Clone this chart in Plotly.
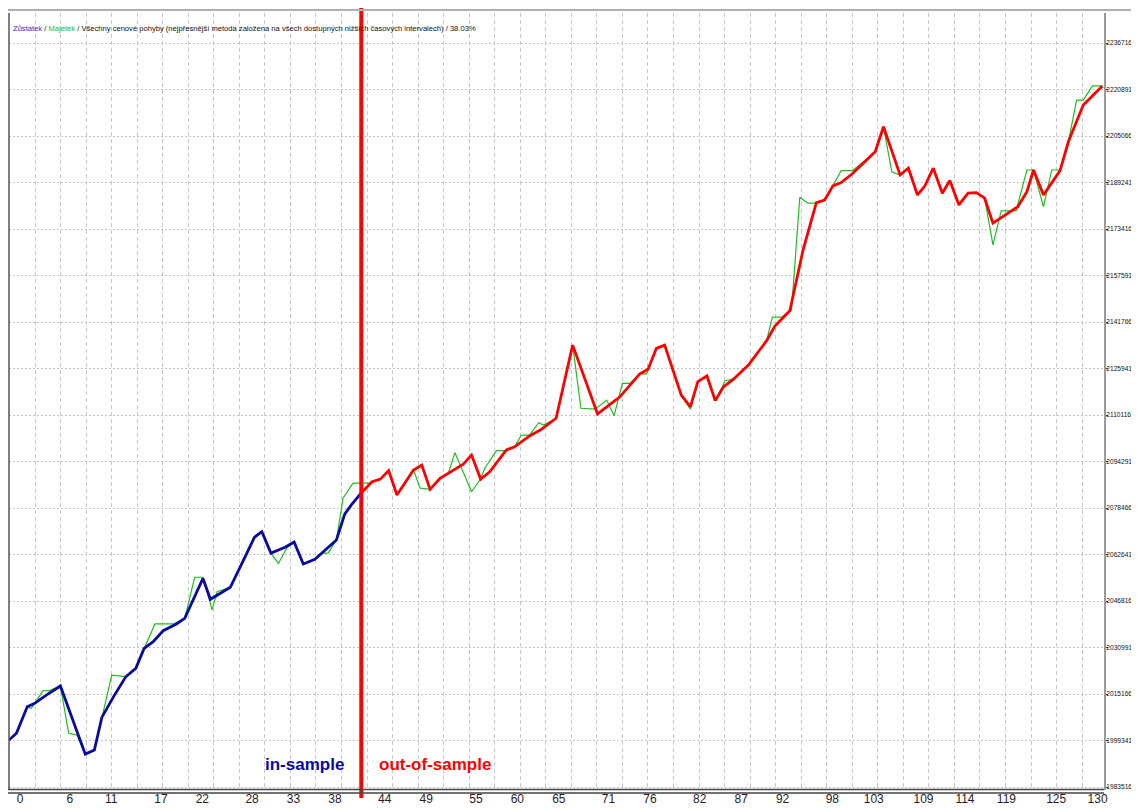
import plotly.graph_objects as go

# ---------------- data ----------------
trade_in = [0.0, 0.9, 2.2, 3.1, 4.5, 6.2, 9.2, 10.3, 11.2, 12.6, 14.1, 15.3, 16.3, 17.4, 18.6,
            20.2, 21.2, 23.4, 24.3, 25.5, 26.7, 28.7, 29.6, 30.5, 31.6, 33.3, 34.4, 35.5, 36.9,
            39.5, 40.5, 41.3, 42.5]
balance_in = [1999500, 2001800, 2010800, 2012000, 2014800, 2017900, 1994700, 1996100, 2007200,
              2014200, 2021100, 2023900, 2030700, 2033000, 2036700, 2039000, 2040900, 2054500,
              2047400, 2049400, 2051500, 2063100, 2068500, 2070400, 2063100, 2065100, 2066900,
              2059400, 2061000, 2067600, 2076400, 2079500, 2083600]

trade_out = [42.5, 43.8, 44.8, 45.8, 46.8, 48.8, 49.8, 50.8, 52.0, 53.0, 54.8, 55.8, 56.9, 58.0,
             59.2, 60.0, 61.0, 62.8, 64.1, 66.0, 68.0, 71.0, 73.7, 76.1, 77.1, 78.1, 79.1, 81.1,
             82.2, 83.1, 84.2, 85.2, 86.2, 87.4, 89.2, 91.4, 92.4, 94.2, 95.8, 97.4, 98.4, 99.4,
             100.4, 101.8, 104.5, 105.5, 107.5, 108.5, 109.6, 110.5, 111.5, 112.6, 113.5, 114.6,
             115.7, 116.7, 117.7, 118.7, 121.7, 122.8, 123.6, 124.8, 126.8, 127.8, 129.6, 131.9]
balance_out = [2083600, 2087400, 2088300, 2091200, 2082900, 2091400, 2093100, 2084800, 2088600,
               2090300, 2093400, 2096500, 2088300, 2090800, 2095100, 2098200, 2099300, 2103000,
               2105000, 2109000, 2133900, 2110500, 2116300, 2124100, 2125700, 2132800, 2133900,
               2116900, 2112900, 2121500, 2123400, 2115000, 2119700, 2122300, 2127100, 2135400,
               2140400, 2145600, 2166300, 2182400, 2183300, 2188100, 2189200, 2192400, 2199700,
               2208200, 2191800, 2194100, 2185000, 2188100, 2194100, 2185600, 2189900, 2181600,
               2185600, 2185800, 2183900, 2175400, 2181000, 2186100, 2193500, 2185000, 2193300,
               2203100, 2215600, 2222100]

trade_eq = [0.0, 0.9, 2.2, 2.7, 3.1, 4.1, 4.9, 6.2, 7.2, 8.2, 9.2, 10.3, 12.4, 14.1, 15.3, 16.3,
            17.6, 19.8, 21.2, 22.4, 23.4, 24.5, 25.1, 26.7, 28.7, 29.6, 30.5, 31.6, 32.5, 33.5,
            34.4, 35.5, 36.9, 37.8, 38.5, 39.5, 40.3, 41.5, 43.5, 44.8, 45.8, 46.8, 48.8, 49.6,
            50.8, 52.0, 53.0, 53.8, 55.8, 56.8, 57.4, 58.8, 60.0, 61.0, 61.8, 62.8, 63.9, 64.5,
            66.0, 68.0, 69.0, 70.7, 72.1, 73.0, 74.0, 74.9, 76.1, 76.9, 78.1, 79.1, 81.1, 82.2,
            83.1, 84.2, 85.2, 86.4, 87.4, 89.2, 91.4, 92.1, 93.2, 94.4, 95.4, 96.4, 97.4, 98.4,
            99.4, 100.4, 101.8, 104.5, 105.5, 106.5, 107.5, 108.5, 109.6, 110.5, 111.5, 112.6,
            113.5, 114.6, 115.7, 116.7, 117.7, 118.7, 119.7, 121.5, 122.8, 123.6, 124.8, 125.8,
            126.8, 127.8, 128.8, 129.6, 130.7, 131.9]
equity = [1999500, 2001800, 2010800, 2010300, 2012000, 2016300, 2016300, 2017900, 2001800,
          2001200, 1994700, 1996100, 2021600, 2021100, 2023900, 2030700, 2039000, 2039000,
          2040900, 2054900, 2054900, 2043800, 2050000, 2051500, 2063100, 2068500, 2070400,
          2063100, 2059600, 2064800, 2066900, 2059400, 2061000, 2063100, 2063100, 2067600,
          2081800, 2086900, 2086900, 2088300, 2091200, 2082900, 2091400, 2085200, 2084800,
          2088600, 2090300, 2097300, 2084000, 2088000, 2092000, 2098000, 2098000, 2099300,
          2103300, 2103300, 2107500, 2106700, 2109000, 2133900, 2112400, 2112100, 2115200,
          2109900, 2120900, 2120900, 2124100, 2124100, 2132800, 2133900, 2116900, 2112100,
          2121500, 2123400, 2115000, 2121800, 2122300, 2127100, 2135400, 2143400, 2143400,
          2145900, 2184200, 2182200, 2182200, 2183300, 2188100, 2193300, 2193300, 2199700,
          2208200, 2192900, 2191800, 2194100, 2185000, 2188100, 2194100, 2185600, 2189900,
          2181600, 2185600, 2185800, 2183900, 2168000, 2179600, 2179600, 2193500, 2193500,
          2181000, 2193500, 2193500, 2203100, 2217300, 2217300, 2222100, 2222100]

split_trade = 42.5

x_tick_labels = [0, 6, 11, 17, 22, 28, 33, 38, 44, 49, 55, 60, 65, 71, 76, 82, 87, 92, 98, 103,
                 109, 114, 119, 125, 130]
y_tick_values = [1983516, 1999341, 2015166, 2030991, 2046816, 2062641, 2078466, 2094291, 2110116,
                 2125941, 2141766, 2157591, 2173416, 2189241, 2205066, 2220891, 2236716]

title_text = ('<span style="color:#2a2ad0">Zůstatek</span> / '
              '<span style="color:#22c022">Majetek</span> / '
              'Všechny cenové pohyby (nejpřesnější metoda založena na všech dostupných nižších '
              'časových intervalech) / 38.03%')

# ---------------- layout geometry (screen pixels) ----------------
OFF = 8                      # page body margin of the written html
SCREEN_W, SCREEN_H = 1139, 809
W, H = SCREEN_W - OFF, SCREEN_H - OFF
L, R, T, B = 9, 1104, 13, 790
X_RANGE = [0, 132.1]
Y_RANGE = [1982497, 2246926]
FONT = "Liberation Sans, Arial, sans-serif"


def px_x(p):
    return (p - L) / (R - L)


def px_y(p):
    return (B - p) / (B - T)


fig = go.Figure()

fig.add_trace(go.Scatter(x=trade_eq, y=equity, mode="lines",
                         line=dict(color="#1fbf1f", width=1.2), hoverinfo="skip",
                         showlegend=False))
fig.add_trace(go.Scatter(x=trade_in, y=balance_in, mode="lines",
                         line=dict(color="#0a0aa0", width=2.8), showlegend=False))
fig.add_trace(go.Scatter(x=trade_out, y=balance_out, mode="lines",
                         line=dict(color="#ff0000", width=2.8), showlegend=False))

# vertical separator
fig.add_shape(type="line", xref="x", yref="paper", x0=split_trade, x1=split_trade,
              y0=px_y(798), y1=px_y(0), line=dict(color="#ff0000", width=4), layer="above")

# frame lines
fig.add_shape(type="line", xref="paper", yref="paper", x0=px_x(4), x1=px_x(1139),
              y0=px_y(10), y1=px_y(10), line=dict(color="#b0b0b0", width=2))
fig.add_shape(type="line", xref="paper", yref="paper", x0=0, x1=0,
              y0=0, y1=px_y(13), line=dict(color="#555555", width=1.5))
fig.add_shape(type="line", xref="paper", yref="paper", x0=px_x(0), x1=1,
              y0=px_y(789.5), y1=px_y(789.5), line=dict(color="#444444", width=1.3))
fig.add_shape(type="line", xref="paper", yref="paper", x0=px_x(0), x1=1,
              y0=px_y(793), y1=px_y(793), line=dict(color="#444444", width=1.3))

fig.add_annotation(xref="paper", yref="paper", x=px_x(11), y=px_y(29), xanchor="left",
                   yanchor="middle", showarrow=False, text=title_text,
                   font=dict(family=FONT, size=7.6, color="#111111"))
fig.add_annotation(xref="paper", yref="paper", x=px_x(304), y=px_y(764), xanchor="center",
                   yanchor="middle", showarrow=False, text="<b>in-sample</b>",
                   font=dict(family=FONT, size=17, color="#0a0aa0"))
fig.add_annotation(xref="paper", yref="paper", x=px_x(435), y=px_y(764), xanchor="center",
                   yanchor="middle", showarrow=False, text="<b>out-of-sample</b>",
                   font=dict(family=FONT, size=17, color="#ff0000"))

grid_x0 = (35 - L) / (R - L) * (X_RANGE[1] - X_RANGE[0])
grid_dx = 25.54 / (R - L) * (X_RANGE[1] - X_RANGE[0])

fig.update_layout(
    width=W, height=H,
    margin=dict(l=L - OFF, r=SCREEN_W - R, t=T - OFF, b=SCREEN_H - B),
    paper_bgcolor="white", plot_bgcolor="white",
    showlegend=False,
    xaxis=dict(range=X_RANGE, tickmode="array", tickvals=x_tick_labels,
               ticktext=[str(v) for v in x_tick_labels], showgrid=False, zeroline=False,
               showline=False, ticks="", ticklabelshift=11,
               tickfont=dict(family=FONT, size=12, color="#2a1a2a"),
               minor=dict(tickmode="linear", tick0=grid_x0, dtick=grid_dx, showgrid=True,
                          gridcolor="#c8c8c8", griddash="4px,3px", gridwidth=1, ticks="")),
    yaxis=dict(range=Y_RANGE, side="right", tickmode="array", tickvals=y_tick_values,
               ticktext=[str(v) for v in y_tick_values], showgrid=True, gridcolor="#c4c4c4",
               griddash="2px,2px", zeroline=False, showline=True, linecolor="#9a9a9a",
               linewidth=2, ticks="outside", ticklen=2, tickcolor="#333333",
               ticklabelstandoff=-3,
               tickfont=dict(family=FONT, size=6.6, color="#111111")),
)

fig.write_html("out.html", config={"displayModeBar": False})
